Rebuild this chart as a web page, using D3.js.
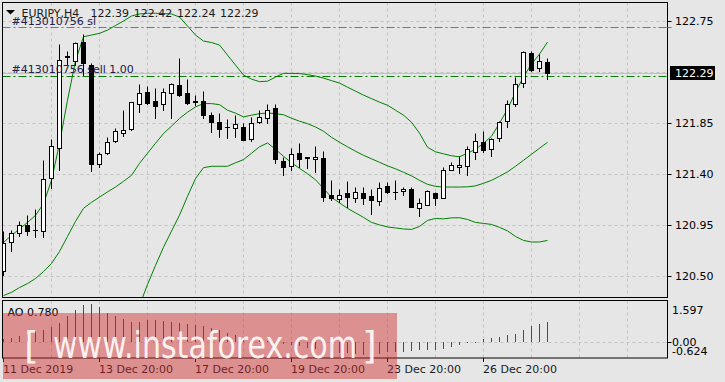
<!DOCTYPE html>
<html><head><meta charset="utf-8">
<script src="https://cdn.jsdelivr.net/npm/d3@7"></script>
<style>
html,body{margin:0;padding:0;background:#e6e6e6;}
svg{display:block;}
text{font-family:"DejaVu Sans",sans-serif;font-size:11px;}
</style></head><body>
<svg id="c" width="725" height="382"></svg>
<script>
// ---------------- data ----------------
const symbol = "EURJPY,H4";
const headerValues = ["122.39", "122.42", "122.24", "122.29"];
const opens = [120.548,120.800,120.878,120.952,120.905,120.896,121.364,121.633,122.435,122.399,
  122.564,122.361,121.492,121.586,121.692,121.764,121.795,122.022,122.122,122.043,
  122.016,122.111,122.187,122.116,122.040,122.040,121.919,121.857,121.811,121.810,
  121.815,121.709,121.863,121.890,121.978,121.518,121.471,121.589,121.545,121.536,
  121.545,121.212,121.182,121.232,121.191,121.232,121.203,121.161,121.291,121.240,
  121.250,121.265,121.103,121.129,121.235,121.191,121.433,121.462,121.474,121.598,
  121.683,121.624,121.722,121.866,122.022,122.199,122.464,122.332,122.39];
const highs = [120.896,120.902,120.982,121.035,121.094,121.521,121.713,122.547,122.485,122.567,
  122.635,122.376,121.592,121.727,121.810,121.963,122.036,122.193,122.175,122.155,
  122.155,122.205,122.423,122.235,122.096,122.131,121.948,121.937,121.884,121.919,
  121.854,121.901,121.966,122.014,122.022,121.550,121.633,121.671,121.550,121.645,
  121.601,121.344,121.265,121.335,121.285,121.285,121.271,121.329,121.329,121.344,
  121.285,121.285,121.191,121.256,121.238,121.462,121.506,121.556,121.647,121.766,
  121.780,121.722,121.869,122.052,122.258,122.482,122.487,122.458,122.42];
const lows = [120.510,120.719,120.852,120.858,120.843,120.843,121.276,121.439,122.370,122.361,
  122.272,121.424,121.459,121.580,121.683,121.738,121.786,121.943,122.016,121.895,
  121.969,121.895,122.090,122.022,122.007,121.890,121.771,121.727,121.720,121.727,
  121.704,121.692,121.854,121.846,121.497,121.395,121.433,121.462,121.453,121.418,
  121.158,121.167,121.152,121.108,121.152,121.138,121.050,121.129,121.232,121.182,
  121.212,121.108,121.026,121.123,121.123,121.191,121.433,121.409,121.395,121.536,
  121.594,121.559,121.692,121.815,121.999,122.164,122.311,122.308,122.24];
const closes = [120.790,120.878,120.946,120.896,120.910,121.359,121.645,122.405,122.440,122.555,
  122.376,121.486,121.580,121.686,121.775,121.791,122.034,122.111,122.028,122.001,
  122.122,122.196,122.098,122.028,122.034,121.920,121.860,121.795,121.815,121.837,
  121.704,121.854,121.899,121.966,121.536,121.462,121.580,121.536,121.548,121.554,
  121.197,121.188,121.212,121.197,121.238,121.191,121.167,121.280,121.241,121.245,
  121.271,121.108,121.143,121.247,121.191,121.439,121.477,121.483,121.618,121.695,
  121.616,121.713,121.860,122.014,122.190,122.473,122.317,122.399,122.29];
const bbUpper = [120.796,120.858,120.915,120.973,121.035,121.138,121.344,121.669,122.051,122.399,
  122.611,122.626,122.641,122.670,122.710,122.750,122.794,122.812,122.818,122.818,
  122.816,122.812,122.785,122.706,122.626,122.573,122.560,122.538,122.449,122.361,
  122.273,122.237,122.215,122.219,122.255,122.288,122.288,122.286,122.277,122.264,
  122.246,122.224,122.202,122.166,122.131,122.096,122.065,122.034,122.007,121.963,
  121.919,121.857,121.760,121.636,121.596,121.578,121.561,121.552,121.583,121.618,
  121.671,121.733,121.848,121.972,122.122,122.258,122.370,122.458,122.564];
const bbMiddle = [120.327,120.356,120.398,120.433,120.478,120.539,120.610,120.716,120.849,120.982,
  121.097,121.150,121.196,121.242,121.285,121.335,121.388,121.494,121.583,121.671,
  121.757,121.822,121.890,121.945,121.992,122.022,122.021,122.012,121.963,121.937,
  121.904,121.919,121.932,121.939,121.932,121.923,121.892,121.866,121.844,121.815,
  121.777,121.724,121.680,121.640,121.601,121.565,121.534,121.503,121.472,121.446,
  121.415,121.384,121.344,121.309,121.291,121.285,121.285,121.285,121.287,121.295,
  121.318,121.344,121.380,121.419,121.468,121.521,121.574,121.627,121.680];
const bbLower = [119.859,119.859,119.881,119.894,119.921,119.941,119.876,119.764,119.646,119.567,
  119.585,119.673,119.753,119.814,119.859,119.921,119.982,120.239,120.425,120.593,
  120.754,120.896,121.037,121.203,121.359,121.456,121.468,121.468,121.468,121.499,
  121.527,121.583,121.640,121.674,121.618,121.556,121.499,121.450,121.402,121.349,
  121.273,121.194,121.145,121.097,121.057,121.017,120.973,120.951,120.933,120.924,
  120.915,120.911,120.937,120.990,121.008,121.004,121.013,121.014,120.999,120.973,
  120.964,120.955,120.929,120.898,120.849,120.814,120.800,120.800,120.814];
const aoValues = [0.10,0.16,0.22,0.30,0.41,0.44,0.57,0.71,1.00,1.23,
  1.41,1.45,1.35,1.13,1.00,0.87,0.78,0.75,0.84,0.83,
  0.80,0.78,0.74,0.70,0.65,0.60,0.52,0.44,0.36,0.26,
  0.18,0.12,0.06,0.02,-0.02,-0.08,-0.12,-0.16,-0.22,-0.26,
  -0.32,-0.38,-0.42,-0.45,-0.47,-0.49,-0.50,-0.47,-0.39,-0.385,
  -0.38,-0.36,-0.32,-0.315,-0.31,-0.27,-0.21,-0.14,-0.06,-0.03,
  0.10,0.16,0.18,0.26,0.32,0.44,0.61,0.67,0.78];
const priceTickLabels = ["122.75","121.85","121.40","120.95","120.50"];
const gridPrices = [122.75,122.30,121.85,121.40,120.95,120.50];
const timeLabels = ["11 Dec 2019","13 Dec 20:00","17 Dec 20:00","19 Dec 20:00","23 Dec 20:00","26 Dec 20:00"];
const timeLabelBars = [0,12,24,36,48,60];
const aoTickLabels = ["1.597","0.00","-0.624"];
const aoLabel = "AO 0.780";
const orderSlText = "#413010756 sl";
const orderText = "#413010756 sell 1.00";
const slPrice = 122.70;
const openPrice = 122.268;
const bidPrice = 122.29;
const bidLabel = "122.29";
const watermark = "www.instaforex.com";

// ---------------- drawing ----------------
const svg = d3.select("#c");
const L = 2.5, R = 667.5, T = 2.5, B = 297.5;
const aoT = 300.5, aoB = 358;
const nBars = opens.length;
const x = d3.scaleLinear().domain([0, 83]).range([3, 667]);
const y = d3.scaleLinear().domain([120.50, 122.75]).range([276, 21]);
const yAO = d3.scaleLinear().domain([-0.624, 1.597]).range([358, 300.5]);
const cx = i => Math.round(x(i)) + 0.5;
const py = v => Math.round(y(v)) + 0.5;

svg.append("rect").attr("width",725).attr("height",382).attr("fill","#e6e6e6");

const defs = svg.append("defs");
defs.append("clipPath").attr("id","mainClip").append("rect")
  .attr("x",L+0.5).attr("y",T+0.5).attr("width",R-L-1).attr("height",B-T-1);
defs.append("clipPath").attr("id","aoClip").append("rect")
  .attr("x",L+0.5).attr("y",aoT+0.5).attr("width",R-L-1).attr("height",aoB-aoT-1);

const gridColor = "#c4c4c4";
const vGridBars = d3.range(6, 84, 6);

// main grid
const gMain = svg.append("g").attr("clip-path","url(#mainClip)");
gMain.selectAll(".hg").data(gridPrices).join("line")
  .attr("x1",L).attr("x2",R).attr("y1",d=>py(d)).attr("y2",d=>py(d))
  .attr("stroke",gridColor).attr("stroke-dasharray","3,3");
gMain.selectAll(".vg").data(vGridBars).join("line")
  .attr("x1",d=>cx(d)).attr("x2",d=>cx(d)).attr("y1",T).attr("y2",B)
  .attr("stroke",gridColor).attr("stroke-dasharray","3,3");

// bid line
gMain.append("line").attr("x1",L).attr("x2",R).attr("y1",py(bidPrice)).attr("y2",py(bidPrice))
  .attr("stroke","#c0c0c0");
// order lines
gMain.append("line").attr("x1",L).attr("x2",R).attr("y1",py(slPrice)).attr("y2",py(slPrice))
  .attr("stroke","#e8501c").attr("stroke-dasharray","8,3,2,3");
gMain.append("line").attr("x1",L).attr("x2",R).attr("y1",py(openPrice)).attr("y2",py(openPrice))
  .attr("stroke","#0a7a0a").attr("stroke-dasharray","8,3,2,3");

// bands
const idx = d3.range(nBars);
const bandLine = arr => d3.line().x(i=>x(i)+0.5).y(i=>y(arr[i]))(idx);
[bbUpper, bbMiddle, bbLower].forEach(arr => {
  gMain.append("path").attr("d", bandLine(arr)).attr("fill","none")
    .attr("stroke","#008000").attr("stroke-width",1);
});

// candles
const cg = gMain.append("g");
idx.forEach(i => {
  const o = opens[i], c = closes[i], h = highs[i], l = lows[i];
  const X = cx(i);
  cg.append("line").attr("x1",X).attr("x2",X).attr("y1",py(h)).attr("y2",py(l)+0.5)
    .attr("stroke","#000");
  const yt = py(Math.max(o,c)), yb = py(Math.min(o,c));
  if (yb - yt < 1) {
    cg.append("line").attr("x1",X-2.5).attr("x2",X+2.5).attr("y1",yt).attr("y2",yt).attr("stroke","#000");
  } else {
    cg.append("rect").attr("x",X-2).attr("y",yt).attr("width",4).attr("height",yb-yt)
      .attr("fill", c >= o ? "#fff" : "#000").attr("stroke","#000");
  }
});

// main frame
svg.append("rect").attr("x",L).attr("y",T).attr("width",R-L).attr("height",B-T)
  .attr("fill","none").attr("stroke","#000");

// header
svg.append("path").attr("d","M6,10 L15,10 L10.5,14.5 Z").attr("fill","#000");
svg.append("text").attr("x",21.5).attr("y",16.5).attr("fill","#1a1a1a").text(symbol);
headerValues.forEach((v,k)=>{
  svg.append("text").attr("x",90.5+k*43.2).attr("y",16.5).attr("fill","#1a1a1a").text(v);
});
svg.append("text").attr("x",11.5).attr("y",24.5).attr("fill","#202048").text(orderSlText);
svg.append("text").attr("x",11.5).attr("y",72.5).attr("fill","#202048").text(orderText);

// price axis
priceTickLabels.forEach(t=>{
  const v = +t;
  svg.append("line").attr("x1",R).attr("x2",R+4).attr("y1",py(v)).attr("y2",py(v)).attr("stroke","#000");
  svg.append("text").attr("x",675).attr("y",Math.round(y(v))+4).attr("fill","#000").text(t);
});
svg.append("line").attr("x1",R).attr("x2",R+4).attr("y1",py(slPrice)).attr("y2",py(slPrice)).attr("stroke","#e8501c");
svg.append("rect").attr("x",670).attr("y",Math.round(y(bidPrice))-7).attr("width",45).attr("height",14).attr("fill","#000");
svg.append("text").attr("x",675).attr("y",Math.round(y(bidPrice))+4).attr("fill","#fff").text(bidLabel);

// AO window
const gAO = svg.append("g").attr("clip-path","url(#aoClip)");
gAO.selectAll(".vg").data(vGridBars).join("line")
  .attr("x1",d=>cx(d)).attr("x2",d=>cx(d)).attr("y1",aoT).attr("y2",aoB)
  .attr("stroke",gridColor).attr("stroke-dasharray","3,3");
gAO.append("line").attr("x1",L).attr("x2",R).attr("y1",Math.round(yAO(0))+0.5).attr("y2",Math.round(yAO(0))+0.5)
  .attr("stroke",gridColor).attr("stroke-dasharray","3,3");
idx.forEach(i=>{
  const v = aoValues[i];
  const up = i === 0 ? true : v > aoValues[i-1];
  svg.append("line").attr("clip-path","url(#aoClip)")
    .attr("x1",cx(i)).attr("x2",cx(i))
    .attr("y1",Math.round(yAO(0))).attr("y2",Math.round(yAO(v)))
    .attr("stroke", up ? "#008000" : "#ff0000");
});
svg.append("rect").attr("x",L).attr("y",aoT).attr("width",R-L).attr("height",aoB-aoT)
  .attr("fill","none").attr("stroke","#000");
svg.append("text").attr("x",7.5).attr("y",315.5).attr("fill","#000").text(aoLabel);
const aoLabelY = [314, 345.5, 355];
aoTickLabels.forEach((t,k)=>{
  svg.append("text").attr("x",672).attr("y",aoLabelY[k]).attr("fill","#000").text(t);
});
svg.append("line").attr("x1",R).attr("x2",R+4).attr("y1",Math.round(yAO(0))+0.5).attr("y2",Math.round(yAO(0))+0.5).attr("stroke","#000");

// time axis
timeLabelBars.forEach((b,k)=>{
  svg.append("line").attr("x1",cx(b)).attr("x2",cx(b)).attr("y1",aoB).attr("y2",aoB+4).attr("stroke","#000");
  svg.append("text").attr("x",Math.round(x(b))).attr("y",373).attr("fill","#1a1a1a").text(timeLabels[k]);
});

// watermark
svg.append("rect").attr("x",3).attr("y",313).attr("width",394).attr("height",66)
  .attr("fill","rgb(210,40,40)").attr("fill-opacity",0.45);
const wm = svg.append("g").attr("fill","#fff").attr("fill-opacity",0.9)
  .style("font-family","'Liberation Sans',Arial,sans-serif");
wm.append("text").attr("x",24).attr("y",358).style("font-size","38px").text("[");
wm.append("text").attr("x",53).attr("y",358).style("font-size","38px")
  .attr("textLength",304).attr("lengthAdjust","spacingAndGlyphs").text(watermark);
wm.append("text").attr("x",362).attr("y",358).style("font-size","38px").text("]");
</script>
</body></html>
